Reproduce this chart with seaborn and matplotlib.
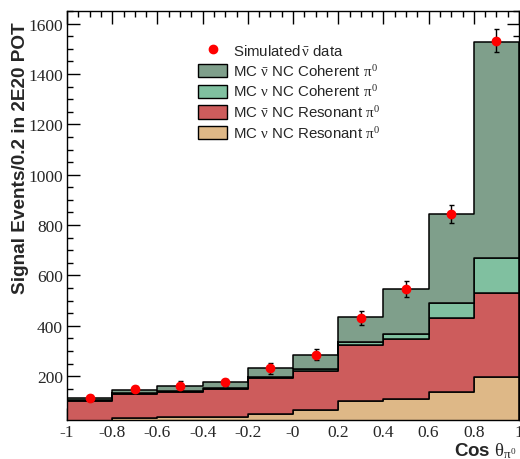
import numpy as np
import pandas as pd
import matplotlib
matplotlib.use("Agg")
import matplotlib.pyplot as plt
from matplotlib.patches import Patch
from matplotlib.lines import Line2D
from matplotlib.ticker import MultipleLocator, FixedLocator, FixedFormatter
import seaborn as sns

# ---- data -------------------------------------------------------------
bin_edges = [-1.0, -0.8, -0.6, -0.4, -0.2, 0.0, 0.2, 0.4, 0.6, 0.8, 1.0]
bin_centers = [-0.9, -0.7, -0.5, -0.3, -0.1, 0.1, 0.3, 0.5, 0.7, 0.9]

xtick_values = [-1.0, -0.8, -0.6, -0.4, -0.2, 0.0, 0.2, 0.4, 0.6, 0.8, 1.0]
xtick_labels = ["-1", "-0.8", "-0.6", "-0.4", "-0.2", "-0", "0.2", "0.4", "0.6", "0.8", "1"]

# stacked MC components (events per bin), top of stack first
nubar_coherent = [9, 12, 20, 24, 35, 57, 97, 179, 354, 860]
nu_coherent = [4, 4, 4, 4, 5, 9, 12, 21, 59, 138]
nubar_resonant = [85, 97, 99, 111, 142, 154, 223, 237, 295, 332]
nu_resonant = [15, 34, 37, 38, 50, 66, 102, 110, 136, 198]

# simulated antineutrino data with errors
data_counts = [115, 148, 162, 175, 232, 286, 431, 545, 844, 1532]
data_errors = [12, 13, 18, 14, 22, 23, 29, 31, 36, 45]

component_labels = [
    r"MC $\bar{\nu}$ NC Coherent $\pi^0$",
    r"MC $\nu$ NC Coherent $\pi^0$",
    r"MC $\bar{\nu}$ NC Resonant $\pi^0$",
    r"MC $\nu$ NC Resonant $\pi^0$",
]
component_colors = ["#7f9f8b", "#80c0a0", "#cd5c5c", "#deb887"]
data_label = r"Simulated$\,\bar{\nu}$ data"

# ---- style ------------------------------------------------------------
sns.set_style("ticks")
plt.rcParams["font.family"] = ["Liberation Sans", "DejaVu Sans"]
plt.rcParams["mathtext.fontset"] = "custom"
plt.rcParams["mathtext.rm"] = "Liberation Serif"
plt.rcParams["mathtext.it"] = "Liberation Serif"
plt.rcParams["mathtext.bf"] = "Liberation Serif:bold"

fig = plt.figure(figsize=(5.2, 4.6), dpi=100)
ax = fig.add_axes([67 / 520, 1 - 421 / 460, (519 - 67) / 520, (421 - 12) / 460])
ax.set_axisbelow(True)

df = pd.DataFrame({
    "cos": np.tile(bin_centers, 4),
    "events": np.concatenate([nubar_coherent, nu_coherent, nubar_resonant, nu_resonant]),
    "component": np.repeat(component_labels, len(bin_centers)),
})

sns.histplot(
    data=df, x="cos", weights="events", hue="component",
    hue_order=component_labels, palette=component_colors,
    bins=bin_edges, multiple="stack", element="step",
    alpha=1, edgecolor="black", linewidth=1.1, legend=False, ax=ax,
)

ax.errorbar(
    bin_centers, data_counts, yerr=data_errors, fmt="o",
    color="red", ms=6, mec="red", ecolor="black", elinewidth=1.0,
    capsize=1.8, capthick=1.0, zorder=5,
)

# ---- axes -------------------------------------------------------------
ax.set_xlim(-1, 1)
ax.set_ylim(26, 1650)
ax.xaxis.set_major_locator(FixedLocator(xtick_values))
ax.xaxis.set_major_formatter(FixedFormatter(xtick_labels))
ax.xaxis.set_minor_locator(MultipleLocator(0.05))
ax.yaxis.set_major_locator(MultipleLocator(200))
ax.yaxis.set_minor_locator(MultipleLocator(50))
ax.tick_params(which="both", direction="in", top=True, right=True,
               width=1.0, color="black")
ax.tick_params(which="major", length=9, labelsize=12.5, pad=3)
ax.tick_params(which="minor", length=4.5)
for lab in ax.get_xticklabels() + ax.get_yticklabels():
    lab.set_fontfamily("Liberation Serif")
for sp in ax.spines.values():
    sp.set_linewidth(1.0)
    sp.set_color("black")
    sp.set_zorder(10)
ax.set_xlabel("")
ax.set_ylabel("")

fig.text(21 / 520, 1 - 22 / 460, "Signal Events/0.2 in 2E20 POT",
         rotation=90, ha="center", va="top", fontsize=13.7, fontweight="bold")
fig.text(517 / 520, 1 - 456 / 460, r"Cos $\theta_{\pi^0}$",
         ha="right", va="baseline", fontsize=13.5, fontweight="bold")

handles = [Line2D([], [], marker="o", color="red", ls="none", ms=6)]
handles += [Patch(facecolor=c, edgecolor="black", linewidth=1.0) for c in component_colors]
ax.legend(
    handles, [data_label] + component_labels,
    loc="upper left", bbox_to_anchor=(198 / 520, 1 - 44 / 460),
    bbox_transform=fig.transFigure, frameon=False, fontsize=10.8,
    handlelength=1.95, handleheight=1.0, handletextpad=0.38,
    labelspacing=0.32, borderpad=0, borderaxespad=0,
)

fig.savefig("out.png", dpi=100)
